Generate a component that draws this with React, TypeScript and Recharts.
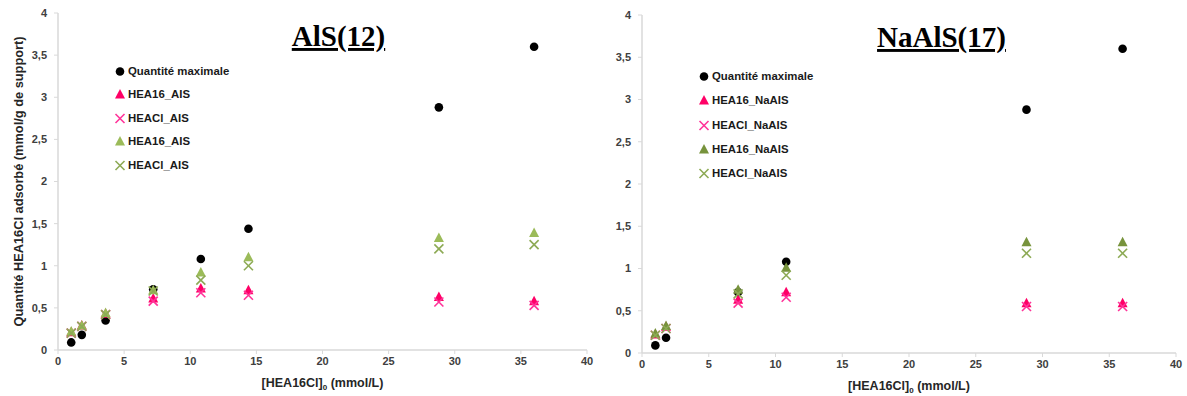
import React from 'react';
import { ScatterChart, Scatter, XAxis, YAxis, Legend } from 'recharts';

// AlS(12) panel
const xAls = [1, 1.8, 3.6, 7.2, 10.8, 14.4, 28.8, 36];
const maxAls = [0.09, 0.18, 0.35, 0.72, 1.08, 1.44, 2.88, 3.6];
const hea16PinkAls = [0.21, 0.29, 0.43, 0.61, 0.73, 0.71, 0.63, 0.58];
const heaclPinkAls = [0.2, 0.28, 0.42, 0.58, 0.68, 0.65, 0.57, 0.53];
const hea16GreenAls = [0.22, 0.29, 0.44, 0.71, 0.92, 1.1, 1.33, 1.39];
const heaclGreenAls = [0.2, 0.28, 0.42, 0.7, 0.83, 1.0, 1.2, 1.25];

// NaAlS(17) panel
const xNa = [1, 1.8, 7.2, 10.8, 28.8, 36];
const maxNa = [0.09, 0.18, 0.72, 1.08, 2.88, 3.6];
const hea16PinkNa = [0.22, 0.31, 0.63, 0.72, 0.59, 0.59];
const heaclPinkNa = [0.21, 0.29, 0.59, 0.66, 0.55, 0.55];
const hea16GreenNa = [0.23, 0.32, 0.75, 1.01, 1.31, 1.31];
const heaclGreenNa = [0.21, 0.29, 0.7, 0.92, 1.18, 1.18];

const xTicks = [0, 5, 10, 15, 20, 25, 30, 35, 40];
const yTicks = [0, 0.5, 1, 1.5, 2, 2.5, 3, 3.5, 4];

const AXIS = '#D9D9D9';
const TICK_TXT = '#404040';
const FONT = '"Liberation Sans", Arial, sans-serif';

type Kind = 'circle' | 'triangle' | 'cross';

function Marker({ kind, cx, cy, color }: { kind: Kind; cx: number; cy: number; color: string }) {
  if (kind === 'circle') return <circle cx={cx} cy={cy} r={4.3} fill={color} />;
  if (kind === 'triangle')
    return <polygon points={`${cx},${cy - 5.5} ${cx - 5},${cy + 4} ${cx + 5},${cy + 4}`} fill={color} />;
  return (
    <g stroke={color} strokeWidth={1.6}>
      <line x1={cx - 4.5} y1={cy - 4.5} x2={cx + 4.5} y2={cy + 4.5} />
      <line x1={cx - 4.5} y1={cy + 4.5} x2={cx + 4.5} y2={cy - 4.5} />
    </g>
  );
}

const toPoints = (xs: number[], ys: number[]) => xs.map((x, i) => ({ x, y: ys[i] }));
const comma = (v: number) => String(v).replace('.', ',');

type Series = { name: string; kind: Kind; color: string; data: { x: number; y: number }[] };

type PanelProps = {
  series: Series[];
  width: number;
  margin: { top: number; right: number; bottom: number; left: number };
  legendPos: { left: number; top: number; row: number };
  yLabel?: boolean;
};

function Panel({ series, width, margin, legendPos, yLabel }: PanelProps) {
  return (
    <ScatterChart width={width} height={396} margin={margin}>
      <XAxis
        type="number"
        dataKey="x"
        domain={[0, 40]}
        ticks={xTicks}
        height={30}
        tickSize={4}
        tickMargin={3}
        axisLine={{ stroke: AXIS, strokeWidth: 1.5 }}
        tickLine={{ stroke: AXIS }}
        tick={{ fill: TICK_TXT, fontSize: 11, fontWeight: 'bold', fontFamily: FONT }}
        label={(p: any) => {
          const vb = p.viewBox;
          return (
            <text
              x={vb.x + vb.width / 2}
              y={vb.y + 37}
              textAnchor="middle"
              fill="#262626"
              fontSize={12.5}
              fontWeight="bold"
              fontFamily={FONT}
            >
              [HEA16Cl]<tspan fontSize={8} dy={3}>0</tspan>
              <tspan dy={-3}> (mmol/L)</tspan>
            </text>
          );
        }}
      />
      <YAxis
        type="number"
        dataKey="y"
        domain={[0, 4]}
        ticks={yTicks}
        width={40}
        tickSize={4}
        tickMargin={7}
        tickFormatter={comma}
        axisLine={{ stroke: AXIS, strokeWidth: 1.5 }}
        tickLine={{ stroke: AXIS }}
        tick={{ fill: TICK_TXT, fontSize: 11, fontWeight: 'bold', fontFamily: FONT }}
        label={
          yLabel
            ? (p: any) => {
                const vb = p.viewBox;
                const cy = vb.y + vb.height / 2;
                return (
                  <text
                    x={18}
                    y={cy}
                    transform={`rotate(-90 18 ${cy})`}
                    textAnchor="middle"
                    dominantBaseline="central"
                    fill="#262626"
                    fontSize={12.8}
                    fontWeight="bold"
                    fontFamily={FONT}
                  >
                    Quantité HEA16Cl adsorbé (mmol/g de support)
                  </text>
                );
              }
            : undefined
        }
      />
      {series.map((s) => (
        <Scatter
          key={s.name + s.color}
          name={s.name}
          data={s.data}
          fill={s.color}
          isAnimationActive={false}
          shape={(p: any) => <Marker kind={s.kind} cx={p.cx} cy={p.cy} color={s.color} />}
        />
      ))}
      <Legend
        layout="vertical"
        align="center"
        verticalAlign="middle"
        wrapperStyle={{ left: legendPos.left, top: legendPos.top, width: 160, height: 130 }}
        content={() => (
          <div style={{ fontFamily: FONT, fontSize: 11.4, fontWeight: 'bold', color: '#1a1a1a' }}>
            {series.map((s) => (
              <div
                key={s.name + s.color}
                style={{ height: legendPos.row, display: 'flex', alignItems: 'center', whiteSpace: 'nowrap' }}
              >
                <svg width={12} height={12} style={{ marginRight: 2 }}>
                  <Marker kind={s.kind} cx={6} cy={6.5} color={s.color} />
                </svg>
                {s.name}
              </div>
            ))}
          </div>
        )}
      />
    </ScatterChart>
  );
}

const alsSeries: Series[] = [
  { name: 'Quantité maximale', kind: 'circle', color: '#000000', data: toPoints(xAls, maxAls) },
  { name: 'HEA16_AIS', kind: 'triangle', color: '#FF0066', data: toPoints(xAls, hea16PinkAls) },
  { name: 'HEACl_AIS', kind: 'cross', color: '#FF3399', data: toPoints(xAls, heaclPinkAls) },
  { name: 'HEA16_AIS', kind: 'triangle', color: '#9BBB59', data: toPoints(xAls, hea16GreenAls) },
  { name: 'HEACl_AIS', kind: 'cross', color: '#8DAA55', data: toPoints(xAls, heaclGreenAls) },
];

const naSeries: Series[] = [
  { name: 'Quantité maximale', kind: 'circle', color: '#000000', data: toPoints(xNa, maxNa) },
  { name: 'HEA16_NaAIS', kind: 'triangle', color: '#FF0066', data: toPoints(xNa, hea16PinkNa) },
  { name: 'HEACl_NaAIS', kind: 'cross', color: '#FF3399', data: toPoints(xNa, heaclPinkNa) },
  { name: 'HEA16_NaAIS', kind: 'triangle', color: '#77933C', data: toPoints(xNa, hea16GreenNa) },
  { name: 'HEACl_NaAIS', kind: 'cross', color: '#8DAA55', data: toPoints(xNa, heaclGreenNa) },
];

export default function App() {
  const titleStyle = {
    fontFamily: '"Liberation Serif", "Times New Roman", serif',
    fontSize: 29,
    fontWeight: 'bold' as const,
    textDecoration: 'underline',
  };
  return (
    <div style={{ position: 'absolute', left: 0, top: 0, width: 1187, height: 396, background: '#fff' }}>
      <div style={{ position: 'absolute', left: 0, top: 0 }}>
        <Panel
          series={alsSeries}
          width={600}
          margin={{ top: 13, right: 13, bottom: 16, left: 18 }}
          legendPos={{ left: 114, top: 59, row: 23.5 }}
          yLabel
        />
      </div>
      <div style={{ position: 'absolute', left: 590, top: 0 }}>
        <Panel
          series={naSeries}
          width={597}
          margin={{ top: 15, right: 11, bottom: 13, left: 12 }}
          legendPos={{ left: 108, top: 64, row: 24.3 }}
        />
      </div>
      <svg
        width={1187}
        height={396}
        style={{ position: 'absolute', left: 0, top: 0, pointerEvents: 'none' }}
      >
        <text x={338.5} y={46} textAnchor="middle" style={titleStyle}>
          AlS(12)
        </text>
        <text x={941.5} y={47} textAnchor="middle" style={titleStyle}>
          NaAlS(17)
        </text>
      </svg>
    </div>
  );
}
